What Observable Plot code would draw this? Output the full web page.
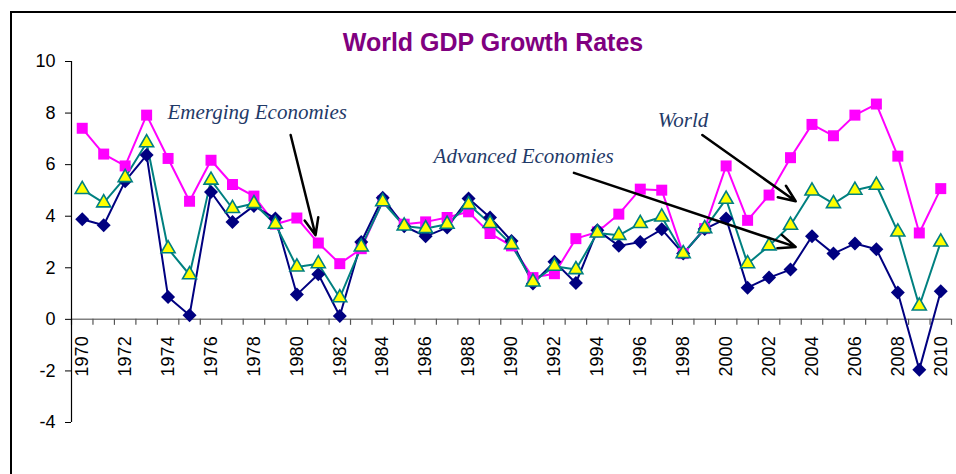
<!DOCTYPE html>
<html><head><meta charset="utf-8">
<script src="https://cdn.jsdelivr.net/npm/d3@7"></script>
<script src="https://cdn.jsdelivr.net/npm/@observablehq/plot@0.6"></script>
<style>
html,body{margin:0;padding:0;background:#fff;overflow:hidden;width:956px;height:474px;}
#wrap{position:relative;width:956px;height:474px;overflow:hidden;}
#frame{position:absolute;left:10px;top:11px;width:1000px;height:1000px;border-left:2px solid #000;border-top:2px solid #000;}
#title{position:absolute;left:193px;width:600px;top:30px;text-align:center;font:bold 25px "Liberation Sans",Arial,sans-serif;color:#800080;line-height:25px;}
#chart{position:absolute;left:0;top:0;}
</style></head><body>
<div id="wrap"><div id="chart"></div><div id="frame"></div><div id="title">World GDP Growth Rates</div></div>
<script>
const years = [1970,1971,1972,1973,1974,1975,1976,1977,1978,1979,1980,1981,1982,1983,1984,1985,1986,1987,1988,1989,1990,1991,1992,1993,1994,1995,1996,1997,1998,1999,2000,2001,2002,2003,2004,2005,2006,2007,2008,2009,2010];
const emerging = [7.41,6.41,5.95,7.92,6.24,4.58,6.17,5.23,4.78, 3.69,3.93,2.96,2.16,2.74,4.59,3.69,3.78, 3.95,4.17,3.33,2.85,1.62,1.77,3.13,3.39, 4.08,5.05,5.01,2.55,3.52,5.95,3.84,4.82, 6.27,7.56,7.12,7.92,8.35,6.33,3.35,5.07];
const world = [5.04,4.52,5.50,6.85,2.74,1.73,5.40,4.30,4.49, 3.69,2.03,2.16,0.84,2.81,4.56,3.62,3.52, 3.69,4.45,3.72,2.90,1.45,2.06,1.93,3.35, 3.26,3.72,3.97,2.55,3.52,4.66,2.16,2.85, 3.65,4.98,4.49,5.01,5.20,3.39,0.52,3.00];
const advanced = [3.88,3.65,5.36,6.37,0.87,0.16,4.94,3.78,4.40, 3.91,0.96,1.75,0.13,3.00,4.72,3.61,3.22, 3.56,4.69,3.95,3.04,1.39,2.23,1.41,3.46, 2.85,3.00,3.49,2.55,3.50,3.91,1.23,1.62, 1.93,3.22,2.55,2.94,2.72,1.04,-1.95,1.09];
const yTicks = [-4,-2,0,2,4,6,8,10];
const xLabelYears = [1970,1972,1974,1976,1978,1980,1982,1984,1986,1988,1990,1992,1994,1996,1998,2000,2002,2004,2006,2008,2010];
const noteLabels = ["Emerging Economies","Advanced Economies","World"];
const noteYears = [1973.97, 1986.37, 1996.81];
const noteValues = [7.77, 6.06, 7.46];
const arrowFromYears = [1979.71, 1992.91, 1998.89];
const arrowFromValues = [7.15, 5.68, 7.15];
const arrowToYears = [1980.87, 2003.24, 2003.24];
const arrowToValues = [3.26, 2.81, 4.58];

const rows = years.map((y, i) => ({year: y, emerging: emerging[i], world: world[i], advanced: advanced[i]}));
const tickYears = years.map(y => y - 0.5).concat([years[years.length - 1] + 0.5]);
const notes = noteLabels.map((t, i) => ({text: t, x: noteYears[i], y: noteValues[i]}));
const arrows = arrowFromYears.map((x, i) => ({x1: x, y1: arrowFromValues[i], x2: arrowToYears[i], y2: arrowToValues[i]}));

const chart = Plot.plot({
  width: 956, height: 474,
  marginLeft: 71, marginRight: 5, marginTop: 61, marginBottom: 52,
  style: {fontFamily: "'Liberation Sans', Arial, sans-serif", background: "transparent", color: "#000"},
  x: {domain: [1969.5, 2010.5], axis: null},
  y: {domain: [-4, 10], axis: null},
  marks: [
    Plot.ruleY([0], {stroke: "#808080", strokeWidth: 1.5}),
    Plot.ruleX(tickYears, {x: d => d, y1: 0, y2: 0, insetBottom: -6, stroke: "#555", strokeWidth: 1.2}),
    Plot.ruleX([1969.5], {y1: -4, y2: 10, stroke: "#000", strokeWidth: 1.2}),
    Plot.axisY({ticks: yTicks, tickFormat: d => String(d), tickSize: 6, tickPadding: 10, fontSize: 18, anchor: "left", stroke: "#000"}),
    Plot.text(xLabelYears, {x: d => d, y: 0, text: d => String(d), rotate: -90, textAnchor: "end", lineAnchor: "middle", dy: 17, fontSize: 18, fill: "#000"}),
    Plot.line(rows, {x: "year", y: "emerging", stroke: "#FF00FF", strokeWidth: 2}),
    Plot.line(rows, {x: "year", y: "advanced", stroke: "#000080", strokeWidth: 2}),
    Plot.line(rows, {x: "year", y: "world", stroke: "#008080", strokeWidth: 2}),
    Plot.dot(rows, {x: "year", y: "emerging", symbol: "square", r: 6.2, fill: "#FF00FF"}),
    Plot.dot(rows, {x: "year", y: "advanced", symbol: "diamond2", r: 6.3, fill: "#000080"}),
    Plot.dot(rows, {x: "year", y: "world", symbol: "triangle", r: 5.2, fill: "#FFFF00", stroke: "#008080", strokeWidth: 1.6}),
    Plot.text(notes, {x: "x", y: "y", text: "text", textAnchor: "start", lineAnchor: "bottom", fontFamily: "'Liberation Serif', 'Times New Roman', serif", fontStyle: "italic", fontSize: 21, fill: "#1F3A68"}),
    Plot.arrow(arrows, {x1: "x1", y1: "y1", x2: "x2", y2: "y2", stroke: "#000", strokeWidth: 2.5, headLength: 11, headAngle: 45})
  ]
});
document.getElementById("chart").appendChild(chart);
</script>
</body></html>
